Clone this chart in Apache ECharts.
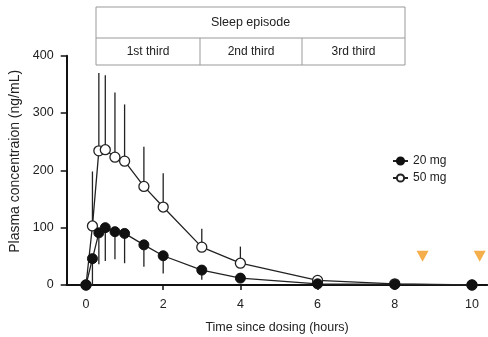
<!DOCTYPE html>
<html>
<head>
<meta charset="utf-8">
<script src="https://cdn.jsdelivr.net/npm/echarts@6/dist/echarts.min.js"></script>
<style>
  html, body { margin: 0; padding: 0; background: #fff; }
  #chart { width: 488px; height: 337px; }
</style>
</head>
<body>
<div id="chart"></div>
<script>
// sampling times (hours)
var times = [0, 0.167, 0.333, 0.5, 0.75, 1, 1.5, 2, 3, 4, 6, 8, 10];
// 20 mg mean and lower SD
var mean20 = [0, 46, 91, 100, 93, 90, 70, 51, 26, 12, 2, 1, 0];
var err20 = [0, 46, 55, 58, 48, 52, 38, 31, 17, 7, 2, 1, 0];
// 50 mg mean and upper SD
var mean50 = [0, 103, 234, 236, 223, 216, 172, 136, 66, 38, 8, 2, 0];
var err50 = [0, 95, 136, 130, 113, 99, 69, 59, 32, 29, 3, 1, 0];
// orange markers
var markers = [[8.72, 50], [10.2, 50]];
var xTicks = [0, 2, 4, 6, 8, 10];
var thirds = ['1st third', '2nd third', '3rd third'];

var fontFam = '"Liberation Sans", Arial, sans-serif';

function pairs(t, v) {
    var res = [];
    for (var i = 0; i < t.length; i++) res.push([t[i], v[i]]);
    return res;
}
function errData(t, m, e, dir) {
    var res = [];
    for (var i = 0; i < t.length; i++) {
        if (e[i] > 0) res.push([t[i], m[i], m[i] + dir * e[i]]);
    }
    return res;
}
function renderErr(params, api) {
    var p1 = api.coord([api.value(0), api.value(1)]);
    var p2 = api.coord([api.value(0), api.value(2)]);
    return {
        type: 'line',
        shape: { x1: p1[0], y1: p1[1], x2: p2[0], y2: p2[1] },
        style: { stroke: '#222', lineWidth: 1.3 }
    };
}

var myChart = echarts.init(document.getElementById('chart'));

// table boxes over the plot
var tblL = 96, tblR = 405, tblT = 7, tblM = 38, tblB = 65;
var cols = [96, 200, 302, 405];
var graphics = [
    { type: 'rect', shape: { x: tblL, y: tblT, width: tblR - tblL, height: tblB - tblT },
      style: { fill: 'none', stroke: '#999', lineWidth: 1 } },
    { type: 'line', shape: { x1: tblL, y1: tblM, x2: tblR, y2: tblM },
      style: { stroke: '#999', lineWidth: 1 } },
    { type: 'text', x: (tblL + tblR) / 2, y: (tblT + tblM) / 2,
      style: { text: 'Sleep episode', fill: '#222', font: '12.5px ' + fontFam, align: 'center', verticalAlign: 'middle' } }
];
for (var i = 0; i < thirds.length; i++) {
    if (i > 0) {
        graphics.push({ type: 'line', shape: { x1: cols[i], y1: tblM, x2: cols[i], y2: tblB },
            style: { stroke: '#999', lineWidth: 1 } });
    }
    graphics.push({ type: 'text', x: (cols[i] + cols[i + 1]) / 2, y: (tblM + tblB) / 2,
        style: { text: thirds[i], fill: '#222', font: '12px ' + fontFam, align: 'center', verticalAlign: 'middle' } });
}

var option = {
    animation: false,
    textStyle: { fontFamily: fontFam },
    graphic: graphics,
    grid: { left: 66.7, right: 0.6, top: 55.7, bottom: 52, outerBoundsMode: 'none', containLabel: false },
    legend: {
        orient: 'vertical',
        left: 387,
        top: 150,
        itemWidth: 15,
        itemHeight: 9,
        itemGap: 5,
        textStyle: { fontSize: 12, color: '#222', fontFamily: fontFam },
        data: ['20 mg', '50 mg']
    },
    xAxis: {
        type: 'value',
        min: -0.5,
        max: 10.4,
        splitLine: { show: false },
        axisLine: { onZero: false, lineStyle: { color: '#111', width: 2 } },
        axisTick: { customValues: xTicks, length: 5, lineStyle: { color: '#111', width: 1.5 } },
        axisLabel: { customValues: xTicks, color: '#222', fontSize: 12.5, margin: 13 },
        name: 'Time since dosing (hours)',
        nameLocation: 'middle',
        nameGap: 36,
        nameTextStyle: { color: '#222', fontSize: 12.5 }
    },
    yAxis: {
        type: 'value',
        min: 0,
        max: 400,
        interval: 100,
        splitLine: { show: false },
        axisLine: { show: true, onZero: false, lineStyle: { color: '#111', width: 2 } },
        axisTick: { show: true, length: 6, lineStyle: { color: '#111', width: 1.5 } },
        axisLabel: { color: '#222', fontSize: 12.5, margin: 13 },
        name: 'Plasma concentraion (ng/mL)',
        nameLocation: 'middle',
        nameGap: 43,
        nameTextStyle: { color: '#222', fontSize: 14, padding: [0, 0, 0, 18] }
    },
    series: [
        {
            name: 'err50', type: 'custom', renderItem: renderErr,
            data: errData(times, mean50, err50, 1), z: 1, silent: true
        },
        {
            name: 'err20', type: 'custom', renderItem: renderErr,
            data: errData(times, mean20, err20, -1), z: 1, silent: true
        },
        {
            name: '50 mg', type: 'line', data: pairs(times, mean50),
            symbol: 'circle', symbolSize: 10,
            lineStyle: { color: '#222', width: 1.3 },
            itemStyle: { color: '#fff', borderColor: '#222', borderWidth: 1.3 },
            z: 2
        },
        {
            name: '20 mg', type: 'line', data: pairs(times, mean20),
            symbol: 'circle', symbolSize: 10,
            lineStyle: { color: '#222', width: 1.3 },
            itemStyle: { color: '#111', borderColor: '#111', borderWidth: 1 },
            z: 3
        },
        {
            name: 'markers', type: 'scatter', data: markers,
            symbol: 'triangle', symbolRotate: 180, symbolSize: [12, 11],
            itemStyle: { color: '#F39A1F' }, z: 4
        }
    ]
};
myChart.setOption(option);
</script>
</body>
</html>
